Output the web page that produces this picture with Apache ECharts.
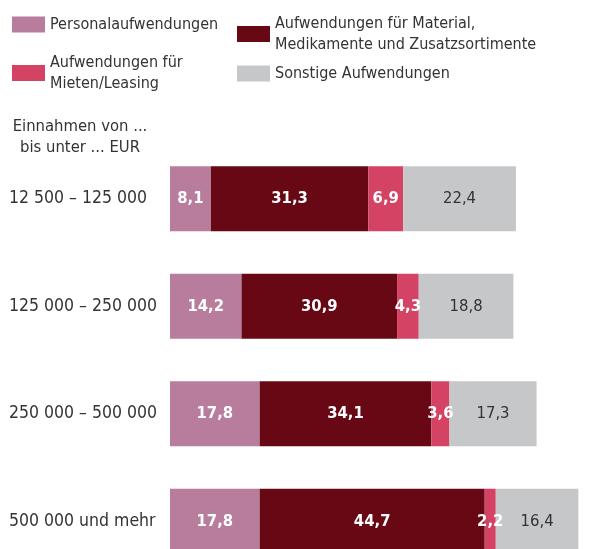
<!DOCTYPE html>
<html><head><meta charset="utf-8">
<script src="https://cdn.jsdelivr.net/npm/echarts@6/dist/echarts.min.js"></script>
<style>html,body{margin:0;padding:0;background:#fff}#c{width:606px;height:549px}</style>
</head><body><div id="c"></div>
<script>
const categories = ['12 500 – 125 000', '125 000 – 250 000', '250 000 – 500 000', '500 000 und mehr'];
const seriesNames = ['Personalaufwendungen', 'Aufwendungen für Material,\nMedikamente und Zusatzsortimente', 'Aufwendungen für\nMieten/Leasing', 'Sonstige Aufwendungen'];
const personal = [8.1, 14.2, 17.8, 17.8];
const material = [31.3, 30.9, 34.1, 44.7];
const mieten = [6.9, 4.3, 3.6, 2.2];
const sonstige = [22.4, 18.8, 17.3, 16.4];
const colors = ['#b87c9c', '#680815', '#d44264', '#c6c7c9'];
const labelColors = ['#fff', '#fff', '#fff', '#333'];
const labelWeights = [600, 600, 600, 'normal'];
const values = [personal, material, mieten, sonstige];
const axisHeader = 'Einnahmen von ...\nbis unter ... EUR';

const FONT = 'DejaVu Sans Condensed';
const chart = echarts.init(document.getElementById('c'));

function legendAt(name, left, top, padTop) {
  return {
    data: [name], left: left, top: top, orient: 'vertical', padding: 0,
    itemWidth: 33, itemHeight: 16, itemGap: 0, selectedMode: false,
    icon: 'rect',
    textStyle: { fontFamily: FONT, fontSize: 16, color: '#333', lineHeight: 21, padding: [padTop || 0, 0, 0, 0] }
  };
}

chart.setOption({
  animation: false,
  textStyle: { fontFamily: FONT },
  legend: [
    legendAt(seriesNames[0], 12, 14),
    legendAt(seriesNames[1], 237, 8, 10),
    legendAt(seriesNames[2], 12, 52),
    legendAt(seriesNames[3], 237, 63)
  ],
  graphic: [{
    type: 'text', x: 80, y: 116,
    style: { text: axisHeader, fontFamily: FONT, fontSize: 16.5, lineHeight: 21, fill: '#333', align: 'center' }
  }],
  grid: { left: 170, top: 145, width: 428, height: 430, outerBoundsMode: 'none', containLabel: false },
  xAxis: { type: 'value', min: 0, max: 85, show: false },
  yAxis: {
    type: 'category', data: categories, inverse: true,
    axisLine: { show: false }, axisTick: { show: false },
    axisLabel: { align: 'left', margin: 161, fontFamily: FONT, fontSize: 17.5, color: '#333' }
  },
  series: values.map((v, i) => ({
    name: seriesNames[i], type: 'bar', stack: 'a', data: v, barWidth: 65,
    itemStyle: { color: colors[i] },
    label: {
      show: true, position: 'inside', fontFamily: FONT, fontSize: 16.5,
      color: labelColors[i], fontWeight: labelWeights[i],
      formatter: p => String(p.value.toFixed(1)).replace('.', ',')
    }
  }))
});
</script></body></html>
